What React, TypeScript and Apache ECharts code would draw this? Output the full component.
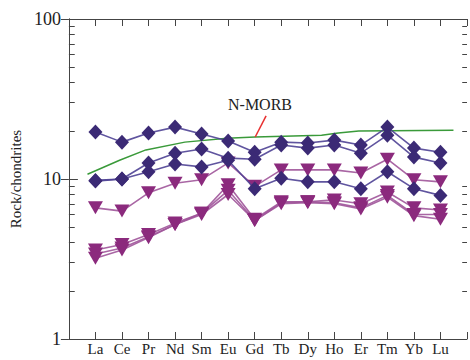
import React, { useEffect, useRef } from 'react';
import * as echarts from 'echarts';

const elements = ['La', 'Ce', 'Pr', 'Nd', 'Sm', 'Eu', 'Gd', 'Tb', 'Dy', 'Ho', 'Er', 'Tm', 'Yb', 'Lu'];

const diamondA = [19.7, 17.0, 19.4, 21.1, 19.1, 17.3, 14.7, 17.0, 16.8, 17.5, 16.3, 21.1, 15.6, 14.7];
const diamondB = [9.8, 10.0, 12.6, 14.5, 15.4, 13.5, 13.3, 16.3, 15.6, 16.3, 14.5, 18.8, 13.7, 12.6];
const diamondC = [9.7, 10.0, 11.1, 12.4, 11.9, 13.1, 8.7, 10.1, 9.6, 9.6, 8.7, 11.1, 8.7, 7.9];

const triangle1 = [6.6, 6.3, 8.2, 9.4, 9.9, 12.6, 9.0, 11.4, 11.4, 11.4, 10.9, 13.3, 9.9, 9.6];
const triangle2 = [3.6, 3.9, 4.5, 5.3, 6.1, 9.2, 5.6, 7.2, 7.2, 7.4, 7.0, 8.3, 6.6, 6.4];
const triangle3 = [3.4, 3.7, 4.35, 5.2, 6.1, 8.5, 5.5, 7.1, 7.2, 7.1, 6.6, 7.9, 6.0, 6.0];
const triangle4 = [3.2, 3.6, 4.3, 5.2, 6.0, 8.0, 5.5, 7.0, 7.1, 7.0, 6.5, 7.7, 5.9, 5.6];

const nmorbX = [0.7, 1.91, 2.9, 4.37, 5.96, 7.02, 9.52, 10.15, 10.92, 14.49];
const nmorbY = [10.7, 13.1, 15.2, 17.0, 18.0, 18.3, 18.8, 19.4, 19.95, 20.2];

const yMinorTicks = [2, 3, 4, 5, 6, 7, 8, 9, 20, 30, 40, 50, 60, 70, 80, 90];

const SERIF = '"Liberation Serif", "Times New Roman", serif';
const DIAMOND = '#3b2a75';
const DIAMOND_LINE = '#4f4395';
const TRI = '#8b2a7d';
const TRI_LINE = '#a0559a';
const AXIS = '#444';

const X_MIN = 0;
const X_MAX = 15;

const toPairs = (vals: number[]) => vals.map((v, i) => [i + 1, v]);

export default function App() {
  const ref = useRef<HTMLDivElement>(null);
  useEffect(() => {
    if (!ref.current) return;
    const chart = echarts.init(ref.current, null, { renderer: 'svg' });

    const diamondSeries = [diamondA, diamondB, diamondC].map((d, i) => ({
      name: 'D' + i,
      type: 'line',
      data: toPairs(d),
      symbol: 'diamond',
      symbolSize: [14, 15],
      itemStyle: { color: DIAMOND },
      lineStyle: { color: DIAMOND_LINE, width: 1.6, opacity: 0.9 },
      z: 5,
    }));
    const triSeries = [triangle1, triangle2, triangle3, triangle4].map((d, i) => ({
      name: 'T' + i,
      type: 'line',
      data: toPairs(d),
      symbol: 'triangle',
      symbolRotate: 180,
      symbolSize: [15, 13],
      itemStyle: { color: TRI },
      lineStyle: { color: TRI_LINE, width: 1.6, opacity: 0.9 },
      z: 4,
    }));

    // minor ticks on the log frame, drawn as short inward segments
    const tickStyle = { color: AXIS, width: 1, type: 'solid' };
    const minorTickLines: any[] = [];
    yMinorTicks.forEach((v) => {
      minorTickLines.push([
        { coord: [X_MIN, v], lineStyle: tickStyle },
        { coord: [X_MIN + 0.22, v] },
      ]);
      minorTickLines.push([
        { coord: [X_MAX - 0.18, v], lineStyle: tickStyle },
        { coord: [X_MAX, v] },
      ]);
    });

    const yBase = {
      type: 'log',
      logBase: 10,
      min: 1,
      max: 100,
      splitLine: { show: false },
      axisLine: { show: true, lineStyle: { color: AXIS, width: 1 } },
    };

    chart.setOption({
      animation: false,
      grid: { left: 61, top: 19, width: 408, height: 320, containLabel: false },
      xAxis: [
        {
          type: 'value',
          min: X_MIN,
          max: X_MAX,
          interval: 1,
          position: 'bottom',
          splitLine: { show: false },
          axisLine: { show: true, lineStyle: { color: AXIS, width: 1 } },
          axisTick: { inside: true, length: 7, lineStyle: { color: AXIS } },
          axisLabel: {
            formatter: (v: number) => elements[Math.round(v) - 1] ?? '',
            fontFamily: SERIF,
            fontSize: 15,
            color: '#222',
            margin: 2,
          },
        },
        {
          type: 'value',
          min: X_MIN,
          max: X_MAX,
          interval: 1,
          position: 'top',
          splitLine: { show: false },
          axisLine: { show: true, lineStyle: { color: AXIS, width: 1 } },
          axisTick: { inside: true, length: 7, lineStyle: { color: AXIS } },
          axisLabel: { show: false },
        },
      ],
      yAxis: [
        {
          ...yBase,
          position: 'left',
          axisTick: { inside: true, length: 9, lineStyle: { color: AXIS } },
          axisLabel: {
            fontFamily: SERIF,
            fontSize: 18,
            color: '#222',
            margin: 8,
          },
          name: 'Rock/chondrites',
          nameLocation: 'middle',
          nameGap: 36,
          nameRotate: 90,
          nameTextStyle: { fontFamily: SERIF, fontSize: 15, color: '#222' },
        },
        {
          ...yBase,
          position: 'right',
          axisTick: { inside: true, length: 8, lineStyle: { color: AXIS } },
          axisLabel: { show: false },
        },
      ],
      graphic: [
        {
          type: 'text',
          x: 260,
          y: 104,
          style: {
            text: 'N-MORB',
            fill: '#222',
            font: '16px ' + SERIF,
            textAlign: 'center',
            textVerticalAlign: 'middle',
          },
          z: 10,
        },
      ],
      series: [
        {
          name: 'N-MORB',
          type: 'line',
          data: nmorbX.map((x, i) => [x, nmorbY[i]]),
          symbol: 'none',
          lineStyle: { color: '#3a9a3a', width: 1.5 },
          z: 2,
          markLine: {
            silent: true,
            symbol: ['none', 'none'],
            label: { show: false },
            lineStyle: { color: '#e83030', width: 1.5, type: 'solid' },
            emphasis: { disabled: true },
            data: [
              [{ coord: [7.43, 24.8] }, { coord: [7.02, 18.3] }],
              ...minorTickLines,
            ],
          },
        },
        ...triSeries,
        ...diamondSeries,
      ],
    });
    return () => chart.dispose();
  }, []);
  return (
    <div
      ref={ref}
      style={{ position: 'fixed', left: 0, top: 0, width: 470, height: 360, background: '#fff' }}
    />
  );
}
